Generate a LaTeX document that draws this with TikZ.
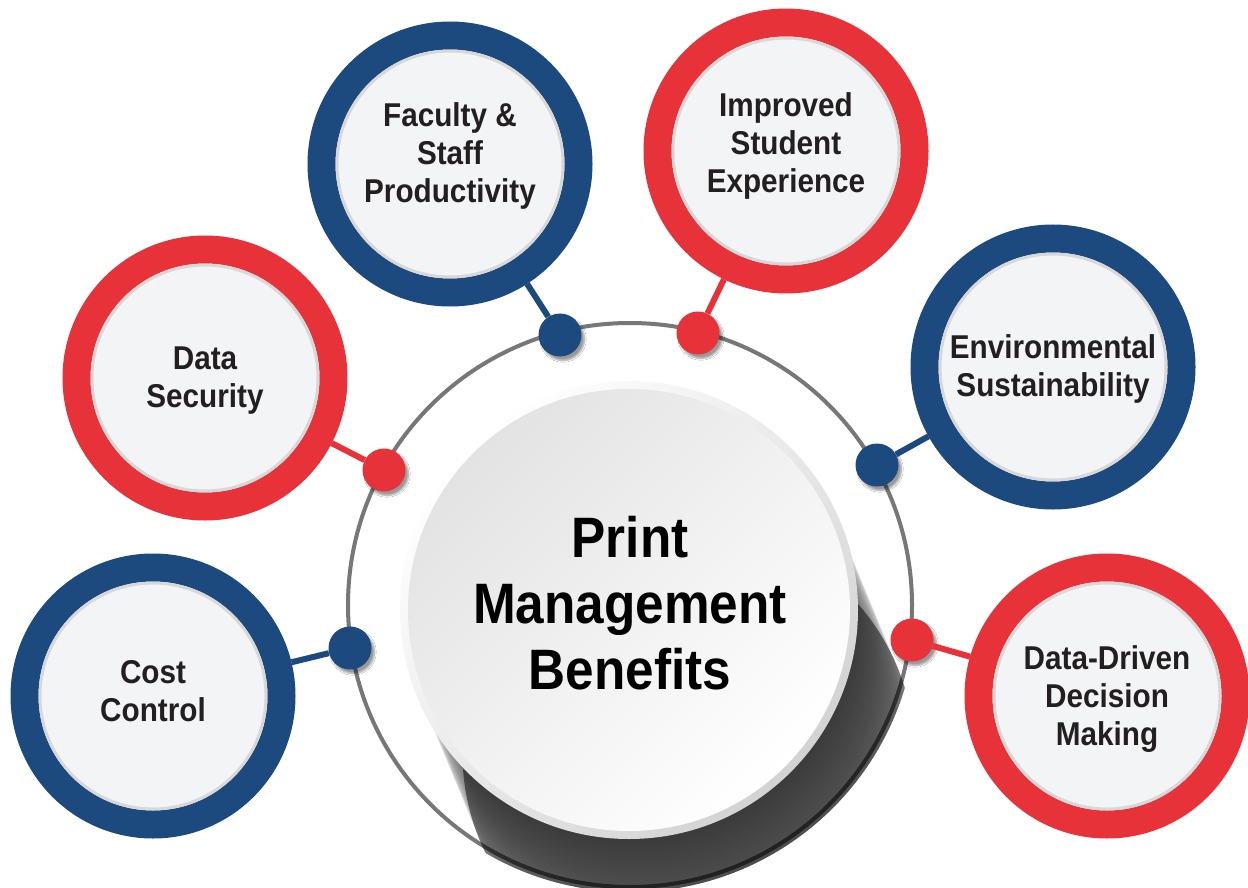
\documentclass[tikz,border=0pt]{standalone}
\usepackage{fontspec}
\newfontfamily\rob{Liberation Sans}[FakeStretch=0.9]
\usetikzlibrary{shadows.blur}
\definecolor{myblue}{HTML}{1D4A7E}
\definecolor{myred}{HTML}{E8323A}
\definecolor{ringgray}{HTML}{777777}
\definecolor{txt}{HTML}{231F20}
\definecolor{innerfill}{HTML}{F3F4F6}
\definecolor{rimgray}{HTML}{D9D8D8}
\begin{document}
\begin{tikzpicture}[x=1pt,y=-1pt,
  benefit/.style={circle, draw=#1, line width=28pt, fill=innerfill, minimum size=257pt, inner sep=0pt},
  dotnode/.style={circle, fill=#1, minimum size=43pt, inner sep=0pt,
    blur shadow={shadow xshift=3pt, shadow yshift=-4pt, shadow blur steps=6, shadow opacity=40}},
  conn/.style={draw=#1, line width=6pt},
  btext/.style={align=center, text=txt, font=\rob\bfseries\fontsize{33}{38}\selectfont},
  ctext/.style={align=center, text=black, font=\rob\bfseries\fontsize{57}{66}\selectfont}]
\useasboundingbox[fill=white] (0,0) rectangle (1248,888);

% big gray ring
\coordinate (G) at (630,605);
\draw[ringgray, line width=4pt] (G) circle[radius=282pt];

% shadow of the centre disc
\coordinate (O) at (629,610);
\begin{scope}
  \clip (630,605) circle[radius=287pt];
  \foreach \k in {0,...,34}
    \fill[black, opacity=0.02] (629+\k*1.7, 610+\k*4.1) circle[radius=226pt];
  \fill[black, opacity=0.5] (629+35*1.7, 610+35*4.1) circle[radius=226pt];
\end{scope}

% centre disc
\shade[top color=white, bottom color=white!65!gray, shading angle=45] (O) circle[radius=229pt];
\shade[top color=white!78!gray, bottom color=white, shading angle=45] (O) circle[radius=221pt];
\node[ctext] (center) at (630,603) {Print\\Management\\Benefits};

% benefit circles
\node[benefit=myblue] (c1) at (450,164) {};
\node[benefit=myred]  (c2) at (786,151) {};
\node[benefit=myred]  (c3) at (205,378) {};
\node[benefit=myblue] (c4) at (1053,367) {};
\node[benefit=myblue] (c5) at (153,696) {};
\node[benefit=myred]  (c6) at (1107,696) {};
\foreach \c in {c1,c2,c3,c4,c5,c6}
  \draw[rimgray, line width=3pt] (\c.center) circle[radius=113pt];

\node[btext] (t1) at (450,156) {Faculty \&\\Staff\\Productivity};
\node[btext] (t2) at (786,146) {Improved\\Student\\Experience};
\node[btext] (t3) at (205,381) {Data\\Security};
\node[btext] (t4) at (1053,369) {Environmental\\Sustainability};
\node[btext] (t5) at (153,691) {Cost\\Control};
\node[btext] (t6) at (1107,699) {Data-Driven\\Decision\\Making};

% connector dots
\node[dotnode=myblue] (d1) at (560,335) {};
\node[dotnode=myred]  (d2) at (698,333) {};
\node[dotnode=myred]  (d3) at (384,470) {};
\node[dotnode=myblue] (d4) at (877,465) {};
\node[dotnode=myblue] (d5) at (350,648) {};
\node[dotnode=myred]  (d6) at (912,640) {};

% connectors
\draw[conn=myblue] (d1) -- (c1);
\draw[conn=myred]  (d2) -- (c2);
\draw[conn=myred]  (d3) -- (c3);
\draw[conn=myblue] (d4) -- (c4);
\draw[conn=myblue] (d5) -- (c5);
\draw[conn=myred]  (d6) -- (c6);
\end{tikzpicture}
\end{document}
